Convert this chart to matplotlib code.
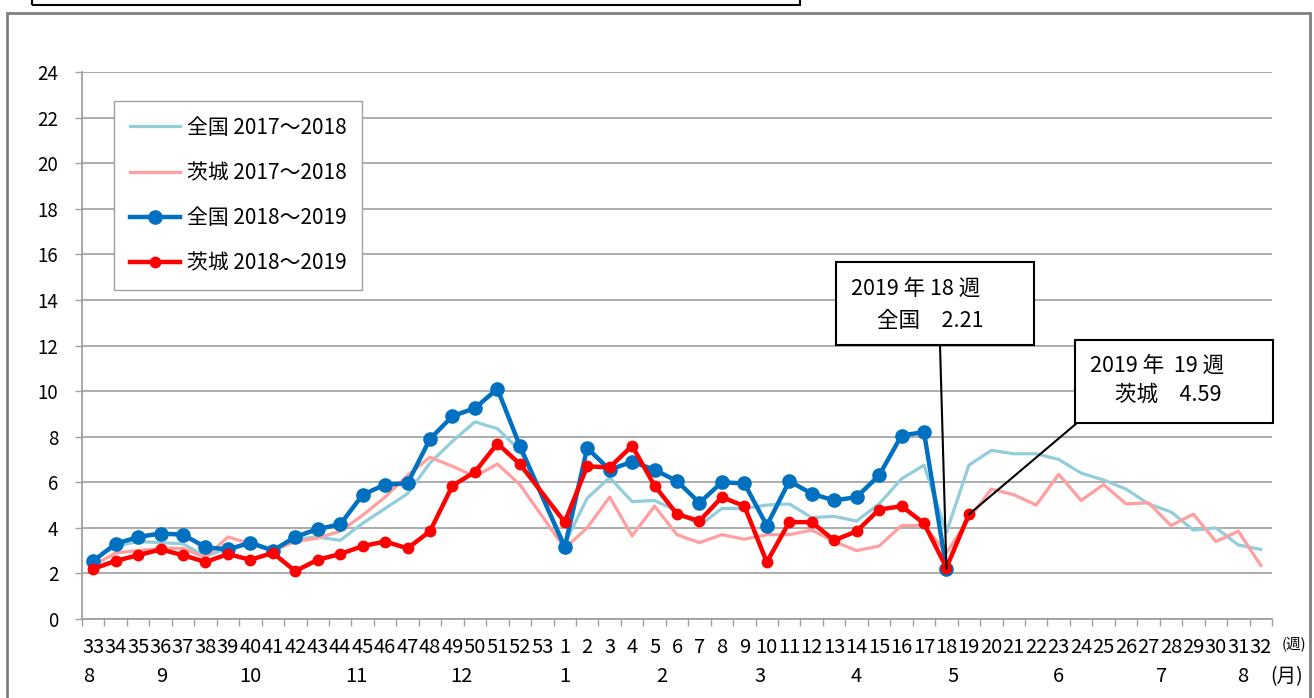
import numpy as np
import matplotlib
matplotlib.use('Agg')
import matplotlib.pyplot as plt
from matplotlib.patches import Rectangle

plt.rcParams['font.family'] = ['Noto Sans CJK JP', 'DejaVu Sans']

# week labels: 2018 week 33 .. 53, then week 1 .. 32
weeks = [str(w) for w in range(33, 54)] + [str(w) for w in range(1, 33)]
nan = np.nan

zenkoku_1718 = [2.6, 3.2, 3.4, 3.35, 3.3, 2.75, 3.1, 3.3, 3.0, 3.5,
                3.6, 3.45, 4.2, 4.85, 5.5, 6.85, 7.8, 8.65, 8.35, 7.4, nan,
                3.3, 5.3, 6.2, 5.15, 5.2, 4.75, 4.1, 4.85, 4.85, 5.0,
                5.05, 4.45, 4.5, 4.3, 5.05, 6.15, 6.75, 3.8, 6.75, 7.4,
                7.25, 7.25, 7.0, 6.4, 6.1, 5.7, 5.05, 4.7, 3.9, 4.0,
                3.25, 3.05]
ibaraki_1718 = [2.35, 2.9, 3.0, 3.1, 3.1, 2.7, 3.6, 3.3, 3.0, 3.4,
                3.55, 3.85, 4.55, 5.35, 6.3, 7.1, 6.7, 6.25, 6.8, 5.9, nan,
                3.1, 4.0, 5.35, 3.65, 4.95, 3.7, 3.35, 3.7, 3.5, 3.7,
                3.7, 3.9, 3.4, 3.0, 3.2, 4.1, 4.1, 2.9, 4.4, 5.7,
                5.45, 5.0, 6.35, 5.2, 5.9, 5.05, 5.1, 4.1, 4.6, 3.4,
                3.85, 2.35]
zenkoku_1819 = [2.55, 3.3, 3.6, 3.75, 3.7, 3.15, 3.05, 3.35, 3.0, 3.6,
                3.95, 4.15, 5.45, 5.9, 5.95, 7.9, 8.9, 9.25, 10.1, 7.6, nan,
                3.15, 7.5, 6.55, 6.9, 6.55, 6.05, 5.1, 6.0, 5.95, 4.1,
                6.05, 5.5, 5.2, 5.35, 6.3, 8.05, 8.2, 2.21] + [nan] * 14
ibaraki_1819 = [2.2, 2.55, 2.8, 3.05, 2.8, 2.5, 2.85, 2.6, 2.9, 2.1,
                2.6, 2.85, 3.2, 3.4, 3.1, 3.85, 5.85, 6.45, 7.7, 6.8, nan,
                4.25, 6.7, 6.65, 7.6, 5.85, 4.6, 4.3, 5.35, 4.95, 2.5,
                4.25, 4.25, 3.45, 3.85, 4.8, 4.95, 4.2, 2.25, 4.59] + [nan] * 13

months = ['8', '9', '10', '11', '12', '1', '2', '3', '4', '5', '6', '7', '8']
month_pos = [-0.2, 3.06, 7.0, 11.7, 16.4, 21.0, 25.3, 29.7, 34.0, 38.3, 43.0, 47.6, 51.2]

W, H = 1314, 698
fig = plt.figure(figsize=(W / 100, H / 100), dpi=100)
ax = fig.add_axes([82 / W, (H - 619) / H, (1272 - 82) / W, (619 - 72) / H])

x = np.arange(len(weeks))


def draw(vals, **kw):
    v = np.array(vals, dtype=float)
    m = ~np.isnan(v)
    return ax.plot(x[m], v[m], **kw)[0]


draw(zenkoku_1718, color='#92CDDC', lw=2.3, label='全国 2017～2018', zorder=3)
draw(ibaraki_1718, color='#FF9F9F', lw=2.3, label='茨城 2017～2018', zorder=3)
draw(zenkoku_1819, color='#0070C0', lw=3.2, marker='o', ms=9.5,
     label='全国 2018～2019', zorder=4)
draw(ibaraki_1819, color='#FF0000', lw=3.2, marker='o', ms=7.5,
     label='茨城 2018～2019', zorder=5)

ax.set_xlim(-0.5, len(weeks) - 0.5)
ax.set_ylim(0, 24)
ax.set_yticks(range(0, 25, 2))
ax.set_xticks(x)
ax.set_xticklabels(weeks, fontsize=14.5)
ax.set_xticks(np.arange(-0.5, len(weeks), 1), minor=True)
ax.tick_params(axis='x', which='major', length=0, pad=13)
ax.tick_params(axis='x', which='minor', length=5, color='#A0A0A0', width=1)
ax.tick_params(axis='y', length=5, color='#A0A0A0', width=1, labelsize=13.5, pad=12)
ax.grid(axis='y', color='#A6A6A6', lw=1.3)
ax.set_axisbelow(True)
for s in ['top', 'right']:
    ax.spines[s].set_visible(False)
for s in ['left', 'bottom']:
    ax.spines[s].set_color('#A0A0A0')
    ax.spines[s].set_linewidth(1.3)

tr = ax.get_xaxis_transform()
for lab, p in zip(months, month_pos):
    ax.text(p, -0.106, lab, transform=tr, ha='center', va='center', fontsize=14.5)
fig.text(1287 / W, 1 - 677 / H, '(月)', ha='center', va='center', fontsize=14)
fig.text(1294 / W, 1 - 645 / H, '(週)', ha='center', va='center', fontsize=10.5)

leg = ax.legend(loc='upper left', bbox_to_anchor=(0.027, 0.947), borderaxespad=0,
                fontsize=15, labelspacing=1.12, handlelength=2.4, handletextpad=0.35,
                borderpad=0.75, fancybox=False, framealpha=1, edgecolor='#A0A0A0')
leg.get_frame().set_linewidth(1.0)


# annotation boxes
def note(box, lines, anchor, idx, val):
    x0, y0, x1, y1 = box
    fig.add_artist(Rectangle((x0 / W, 1 - y1 / H), (x1 - x0) / W, (y1 - y0) / H,
                             transform=fig.transFigure, fill=True, fc='white',
                             ec='black', lw=1.5, zorder=10))
    for (tx, ty, t) in lines:
        fig.text(tx / W, 1 - ty / H, t, ha='left', va='center', fontsize=15.5, zorder=11)
    ax.annotate('', xy=(idx, val), xytext=(anchor[0], H - anchor[1]),
                textcoords='figure pixels',
                arrowprops=dict(arrowstyle='-', color='black', lw=1.5,
                                shrinkA=0, shrinkB=0), zorder=9)


i18 = weeks.index('18', 21)
i19 = weeks.index('19', 21)
note((836, 262, 1034, 345), [(851, 289, '2019 年 18 週'), (877, 321, '全国　2.21')],
     (940, 345), i18, zenkoku_1819[i18])
note((1075, 340, 1273, 423), [(1090, 366, '2019 年  19 週'), (1115, 395, '茨城　4.59')],
     (1077, 423), i19, ibaraki_1819[i19])

# chart frame and title box edge
fig.add_artist(Rectangle((7 / W, -0.05), (1310 - 7) / W, 1.05 - 13 / H,
                         transform=fig.transFigure, fill=False, ec='#808080', lw=2))
fig.add_artist(Rectangle((32 / W, 1 - 5 / H), (800 - 32) / W, 0.05,
                         transform=fig.transFigure, fill=False, ec='black', lw=1.5))

fig.savefig('out.png', dpi=100)
